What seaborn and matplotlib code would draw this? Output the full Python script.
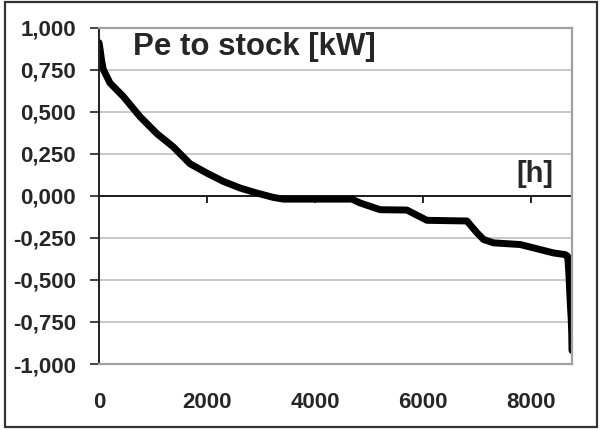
import numpy as np
import pandas as pd
import matplotlib
matplotlib.use("Agg")
import matplotlib.pyplot as plt
import seaborn as sns
from matplotlib.ticker import FuncFormatter, FixedLocator, NullFormatter
from matplotlib.patches import Rectangle

hours = [0, 20, 50, 80, 204, 450, 760, 1069, 1377, 1686, 1996, 2304, 2613, 2923,
         3230, 3415, 4683, 4837, 5208, 5702, 6073, 6814, 7000, 7122, 7307, 7802,
         8049, 8419, 8636, 8680, 8700, 8715, 8730, 8745, 8755, 8760]
power_kw = [0.91, 0.87, 0.80, 0.75, 0.67, 0.59, 0.47, 0.37, 0.29, 0.19, 0.135, 0.085,
            0.046, 0.016, -0.01, -0.02, -0.02, -0.043, -0.083, -0.085, -0.146, -0.15,
            -0.22, -0.26, -0.28, -0.29, -0.31, -0.34, -0.35, -0.36, -0.45, -0.55,
            -0.65, -0.73, -0.82, -0.92]
y_ticks = [-1.0, -0.75, -0.5, -0.25, 0.0, 0.25, 0.5, 0.75, 1.0]
x_ticks = [0, 2000, 4000, 6000, 8000]
title_text = "Pe to stock [kW]"
x_unit = "[h]"

sns.set_style("white")
plt.rcParams['font.family'] = ['Liberation Sans', 'DejaVu Sans']

df = pd.DataFrame({"h": hours, "p": power_kw})

fig = plt.figure(figsize=(6.0, 4.3), dpi=100)
ax = fig.add_axes([99/600, 1-364/430, (572-99)/600, (364-27.5)/430])

sns.lineplot(data=df, x="h", y="p", ax=ax, color="black", linewidth=5,
             estimator=None, sort=False)

ax.set_xlim(0, 8760)
ax.set_ylim(-1, 1)
ax.set_xlabel("")
ax.set_ylabel("")

ax.yaxis.set_major_locator(FixedLocator(y_ticks))
ax.xaxis.set_major_locator(FixedLocator(x_ticks))

def yfmt(v, pos):
    s = f"{v:.3f}".replace(".", ",")
    if s.startswith("-0,000"):
        s = "0,000"
    return s
ax.yaxis.set_major_formatter(FuncFormatter(yfmt))
ax.xaxis.set_major_formatter(FuncFormatter(lambda v, p: f"{int(v)}"))

ax.grid(axis="y", color="#c4c4c4", linewidth=1.3)
ax.grid(axis="x", visible=False)
ax.set_axisbelow(True)

for side in ["top", "right", "bottom"]:
    ax.spines[side].set_color("#a0a0a0")
    ax.spines[side].set_linewidth(1.6)
ax.spines["left"].set_color("#222222")
ax.spines["left"].set_linewidth(1.4)

ax.tick_params(axis="y", direction="out", length=6.5, width=1.2, color="#222222",
               pad=10, labelsize=16, left=True)
ax.tick_params(axis="x", length=0, pad=20, labelsize=16)
for lbl in ax.get_xticklabels() + ax.get_yticklabels():
    lbl.set_fontweight("bold")

ax.axhline(0, color="black", linewidth=1.2, zorder=1.5)
sec = ax.secondary_xaxis(0.5)
sec.xaxis.set_ticks_position("bottom")
sec.xaxis.set_major_locator(FixedLocator(x_ticks[1:]))
sec.xaxis.set_major_formatter(NullFormatter())
sec.tick_params(axis="x", which="both", direction="out", length=5, width=1.2,
                color="black", labeltop=False, labelbottom=False)
for s in sec.spines.values():
    s.set_visible(False)

ax.text(133/600, 1-47/430, title_text, transform=fig.transFigure,
        fontsize=22.5, fontweight="bold", ha="left", va="center")
ax.text(553/600, 1-174/430, x_unit, transform=fig.transFigure,
        fontsize=21, fontweight="bold", ha="right", va="center")

fig.patches.append(Rectangle((5/600, 1-427/430), 592/600, 425/430,
                             transform=fig.transFigure, fill=False,
                             edgecolor="#333333", linewidth=1.6))

fig.savefig("out.png", dpi=100, facecolor="white")
